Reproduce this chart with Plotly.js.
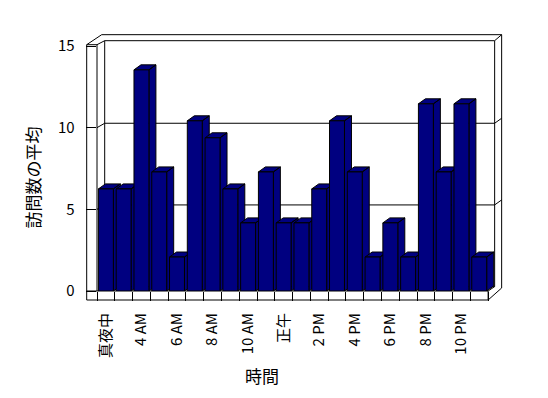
<!DOCTYPE html>
<html><head><meta charset="utf-8">
<script src="https://cdn.plot.ly/plotly-3.0.1.min.js"></script>
<style>html,body{margin:0;padding:0;background:#fff}</style>
</head><body><div id="chart" style="width:548px;height:398px"></div>
<script>
// ---- data ----
const categories = ['真夜中','2 AM','4 AM','5 AM','6 AM','7 AM','8 AM','9 AM','10 AM','11 AM','正午','1 PM','2 PM','3 PM','4 PM','5 PM','6 PM','7 PM','8 PM','9 PM','10 PM','11 PM'];
const avgVisits = [6.25,6.25,13.54,7.29,2.08,10.42,9.38,6.25,4.17,7.29,4.17,4.17,6.25,10.42,7.29,2.08,4.17,2.08,11.46,7.29,11.46,2.08];
const tickLabels = ['真夜中','4 AM','6 AM','8 AM','10 AM','正午','2 PM','4 PM','6 PM','8 PM','10 PM'];
const yTicks = [0,5,10,15];
const yTitle = '訪問数の平均';
const xTitle = '時間';

// ---- geometry / style ----
const W = 548, H = 398;
const L = 97.3, B = 291, T = 46.3;       // front plane of the plot box (px)
const NCAT = categories.length;
const XMIN = -0.5, XMAX = NCAT;           // extra room for the 3D side of the last bar
const CW = 17.78;                         // px per category
const plotW = (XMAX - XMIN) * CW;
const YMAX = 15;
const UH = (B - T) / YMAX;
const BAR_W = 0.84;
const DX = 7 / CW, DY = 5 / UH;           // bar depth (data units)
const WALL_DX = 7.7, WALL_DY = 4.4;       // back wall offset (px)
const NAVY = '#000080';
const FONT = 'Noto Sans CJK JP, sans-serif';

// ---- 3D sides/tops of bars ----
const depthTraces = avgVisits.map((v, i) => {
  const xl = i - BAR_W / 2, xr = i + BAR_W / 2;
  return {
    type: 'scatter', mode: 'lines', xaxis: 'x', yaxis: 'y',
    x: [xr, xr, xr + DX, xr + DX, xr, null, xl, xr, xr + DX, xl + DX, xl],
    y: [0, v, v + DY, DY, 0, null, v, v, v + DY, v + DY, v],
    fill: 'toself', fillcolor: NAVY, line: { color: '#000', width: 1 },
    hoverinfo: 'skip', showlegend: false
  };
});

// ---- front faces (real bar trace) ----
const bars = {
  type: 'bar', xaxis: 'x2', yaxis: 'y2',
  x: categories.map((c, i) => i), y: avgVisits, customdata: categories,
  width: BAR_W, marker: { color: NAVY, line: { color: '#000', width: 1 } },
  hovertemplate: '%{customdata}: %{y}<extra></extra>', showlegend: false
};

// ---- frame (walls, floor, gridlines) ----
const px = x => (x - L) / plotW;
const py = y => (B - y) / (B - T);
const seg = (x0, y0, x1, y1) => ({
  type: 'line', xref: 'paper', yref: 'paper', layer: 'below',
  x0: px(x0), y0: py(y0), x1: px(x1), y1: py(y1),
  line: { color: '#000', width: 1 }
});
const RX = L + NCAT * CW;  // right end of front floor
const shapes = [
  seg(87, 45, 87, 300), seg(L, 45, L, B), seg(87, 45, L, 45),
  seg(87, 45, 102, 35), seg(L, 45, L + WALL_DX, 45 - WALL_DY + 0.4),
  seg(102, 35, 502, 35), seg(L + WALL_DX, 41, 495, 41),
  seg(L + WALL_DX, 41, L + WALL_DX, B - WALL_DY),
  seg(495, 41, 495, B - WALL_DY), seg(495, 41, 502, 35), seg(502, 35, 502, 288),
  seg(87, 300, RX, 300), seg(87, B, RX, B), seg(RX, B, RX, 300),
  seg(RX, 300, 502, 288), seg(RX, B, 495, B - WALL_DY),
  seg(L + WALL_DX, B - WALL_DY, 495, B - WALL_DY)
];
yTicks.filter(v => v > 0 && v < YMAX).forEach(v => {
  const fy = B - v * UH, by = fy - WALL_DY;
  shapes.push(seg(L, fy, L + WALL_DX, by), seg(L + WALL_DX, by, 495, by), seg(495, by, 502, by - 5));
});

const layout = {
  width: W, height: H,
  margin: { l: L, r: W - L - plotW, t: T, b: H - B, pad: 0 },
  paper_bgcolor: '#fff', plot_bgcolor: 'rgba(0,0,0,0)',
  showlegend: false, bargap: 0,
  font: { family: FONT, size: 15, color: '#000' },
  xaxis: {
    range: [XMIN, XMAX], tickmode: 'array',
    tickvals: tickLabels.map(t => categories.indexOf(t)), ticktext: tickLabels,
    tickangle: -90, ticks: '', showgrid: false, zeroline: false, showline: false,
    tickfont: { family: FONT, size: 15, color: '#000' }, ticklabelstandoff: 18,
    minor: { tickmode: 'array', tickvals: categories.map((c, i) => i - 0.5).concat([NCAT - 0.5]),
             ticks: 'outside', ticklen: 9, tickcolor: '#000', tickwidth: 1, showgrid: false },
    fixedrange: true
  },
  yaxis: {
    range: [0, YMAX], tickmode: 'array', tickvals: yTicks,
    ticks: 'outside', ticklen: 10.3, tickcolor: '#000', tickwidth: 1,
    showgrid: false, zeroline: false, showline: false,
    tickfont: { family: FONT, size: 15, color: '#000' }, ticklabelstandoff: 8,
    fixedrange: true
  },
  xaxis2: { overlaying: 'x', anchor: 'y2', range: [XMIN, XMAX], visible: false, fixedrange: true },
  yaxis2: { overlaying: 'y', anchor: 'x2', range: [0, YMAX], visible: false, fixedrange: true },
  shapes: shapes,
  annotations: [
    { text: xTitle, xref: 'paper', yref: 'paper', x: px(262), y: py(375), showarrow: false,
      xanchor: 'center', yanchor: 'middle', font: { family: FONT, size: 17, color: '#000' } },
    { text: yTitle, xref: 'paper', yref: 'paper', x: px(33), y: py(178), showarrow: false,
      textangle: -90, xanchor: 'center', yanchor: 'middle', font: { family: FONT, size: 17, color: '#000' } }
  ]
};

Plotly.newPlot('chart', depthTraces.concat([bars]), layout, { staticPlot: true, displayModeBar: false });
</script>
</body></html>
